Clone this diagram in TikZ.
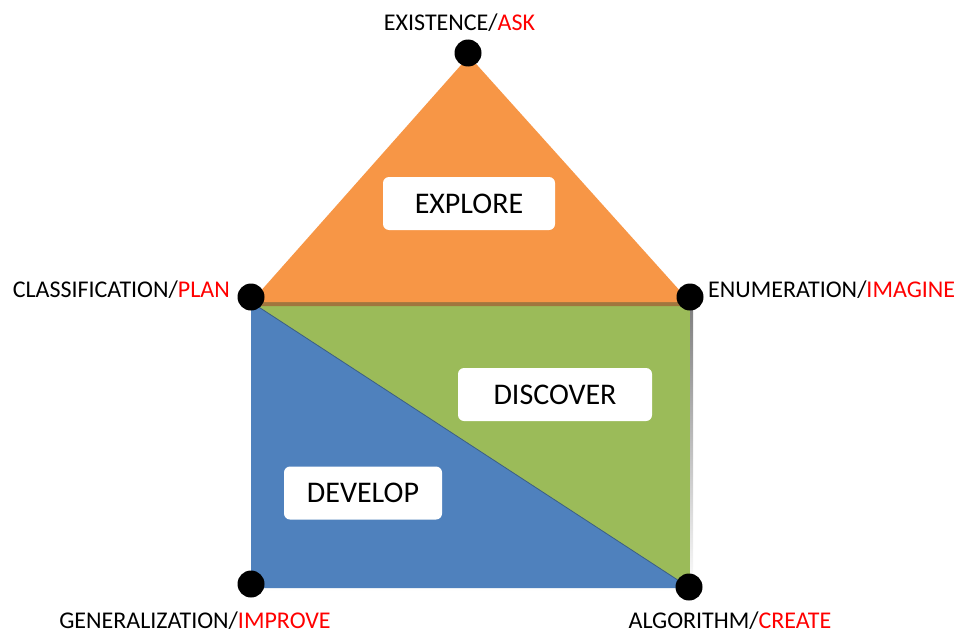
\documentclass[tikz,border=0pt]{standalone}
\usepackage{fontspec}
\setmainfont{Carlito}
\usepackage{xcolor}
\usetikzlibrary{calc}

\definecolor{roofor}{RGB}{247,150,70}
\definecolor{roofedge}{RGB}{160,118,62}
\definecolor{wallgr}{RGB}{155,187,89}
\definecolor{wallbl}{RGB}{79,129,189}
\definecolor{diagln}{RGB}{60,95,130}
\definecolor{shade}{RGB}{150,158,172}

\tikzset{
  dot/.style={circle, fill=black, inner sep=0pt, minimum size=27pt},
  corner/.style={inner sep=0pt, font=\fontsize{24}{28}\selectfont},
  stagebox/.style={fill=white, rounded corners=6pt, minimum height=53pt,
    inner sep=0pt, font=\fontsize{30}{36}\selectfont}
}

\begin{document}
\begin{tikzpicture}[x=1pt, y=-1pt]
  \useasboundingbox (0,0) rectangle (960,634);
  % Corners of the house
  \coordinate (top) at (469,56);
  \coordinate (ml) at (251,302);
  \coordinate (mr) at (690,302);
  \coordinate (bl) at (251,588);
  \coordinate (br) at (690,588);
  % Green wall with its grey shadow
  \fill[shade] ($(ml)+(3,4)$) rectangle ($(br)+(3,4)$);
  \fill[wallgr] (ml) rectangle (br);
  % Blue half of the wall
  \fill[wallbl] (ml) -- (bl) -- (br) -- cycle;
  \draw[diagln, line width=0.8pt] (ml) -- (br);
  % Orange roof
  \fill[roofedge] ($(top)+(0,4)$) -- ($(ml)+(0,4)$) -- ($(mr)+(0,4)$) -- cycle;
  \fill[roofor] (top) -- (ml) -- (mr) -- cycle;
  % Stages
  \node[stagebox, minimum width=172pt] (explore) at (469,203.5) {EXPLORE};
  \node[stagebox, minimum width=194pt] (discover) at (555,394.5) {DISCOVER};
  \node[stagebox, minimum width=158pt] (develop) at (363,493) {DEVELOP};
  % Vertices
  \node[dot] (ask) at (468,53) {};
  \node[dot] (plan) at (251,297) {};
  \node[dot] (imagine) at (690,297) {};
  \node[dot] (improve) at (251,584) {};
  \node[dot] (create) at (689,587) {};
  % Labels
  \node[corner, anchor=base] (asklab) at (459.5,31) {EXISTENCE/\textcolor{red}{ASK}};
  \node[corner, anchor=base east] (planlab) at (230,297) {CLASSIFICATION/\textcolor{red}{PLAN}};
  \node[corner, anchor=base west] (imaginelab) at (708,297) {ENUMERATION/\textcolor{red}{IMAGINE}};
  \node[corner, anchor=base] (improvelab) at (195,628) {GENERALIZATION/\textcolor{red}{IMPROVE}};
  \node[corner, anchor=base] (createlab) at (730,628) {ALGORITHM/\textcolor{red}{CREATE}};
\end{tikzpicture}
\end{document}
